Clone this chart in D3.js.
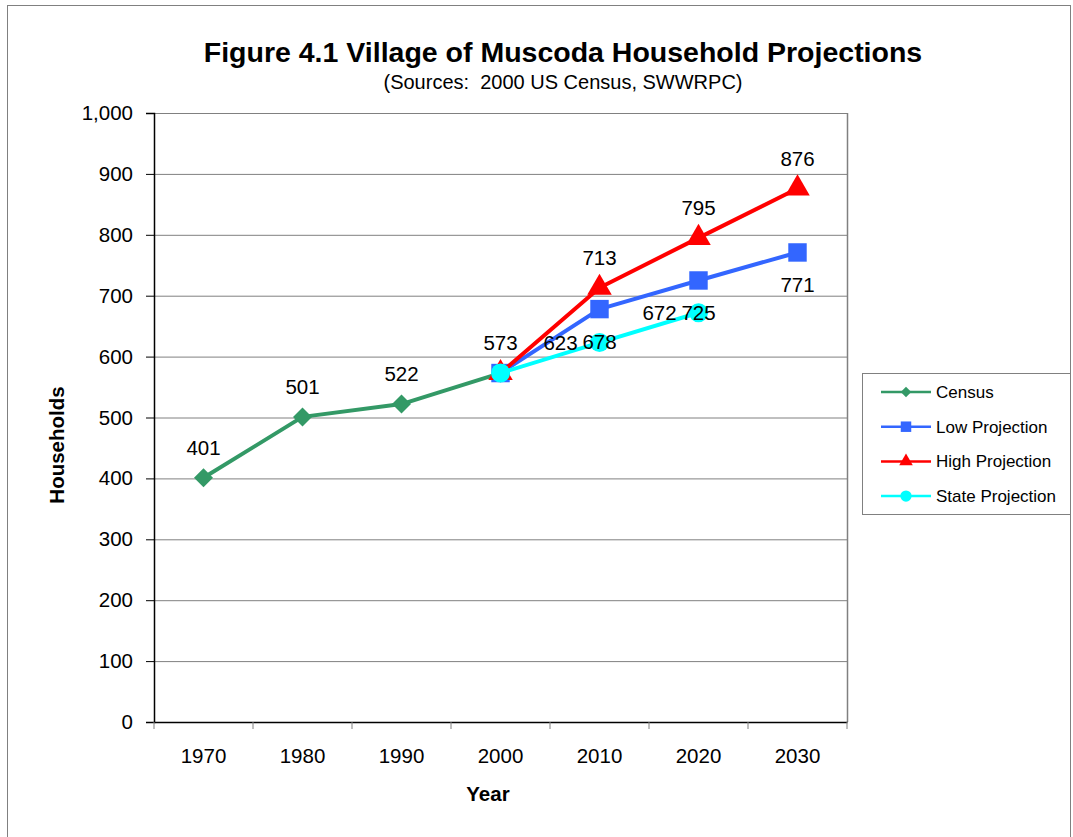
<!DOCTYPE html>
<html><head><meta charset="utf-8">
<script src="https://cdn.jsdelivr.net/npm/d3@7"></script>
<style>body{margin:0;background:#fff;}svg{display:block;font-family:Arial,"Liberation Sans",sans-serif;}</style>
</head><body>
<svg id="c" width="1073" height="837"></svg>
<script>
const years = ["1970","1980","1990","2000","2010","2020","2030"];
const census = [["1970",401],["1980",501],["1990",522],["2000",573]];
const lowProj = [["2000",573],["2010",678],["2020",725],["2030",771]];
const highProj = [["2000",573],["2010",713],["2020",795],["2030",876]];
const stateProj = [["2000",573],["2010",623],["2020",672]];
const yTicks = [0,100,200,300,400,500,600,700,800,900,1000];

const svg = d3.select("#c");
const L=154, R=847, T=113, B=722;
const FS = 20.5;
const x = d3.scaleBand().domain(years).range([L,R]);
const y = d3.scaleLinear().domain([0,1000]).range([B,T]);

svg.append("rect").attr("x",7.5).attr("y",5.5).attr("width",1063).attr("height",840)
  .attr("fill","none").attr("stroke","#808080").attr("stroke-width",1);

svg.append("text").attr("x",563).attr("y",62).attr("text-anchor","middle")
  .attr("font-size",28.5).attr("font-weight","bold").text("Figure 4.1 Village of Muscoda Household Projections");
svg.append("text").attr("x",563).attr("y",89).attr("text-anchor","middle")
  .attr("font-size",20).style("white-space","pre").text("(Sources:  2000 US Census, SWWRPC)");

// gridlines
svg.append("g").selectAll("line").data(yTicks.filter(d=>d>0)).join("line")
  .attr("x1",L).attr("x2",R).attr("y1",d=>y(d)+0.5).attr("y2",d=>y(d)+0.5)
  .attr("stroke","#808080").attr("stroke-width",1);
svg.append("line").attr("x1",R+0.5).attr("x2",R+0.5).attr("y1",T).attr("y2",B)
  .attr("stroke","#808080").attr("stroke-width",1.5);

// y axis
const ya = svg.append("g").attr("transform",`translate(${L},0)`)
  .call(d3.axisLeft(y).tickValues(yTicks).tickSize(8).tickPadding(13).tickFormat(d3.format(",")));
ya.select(".domain").attr("stroke","#000").attr("stroke-width",1.5);
ya.selectAll(".tick line").attr("stroke","#000");
ya.selectAll("text").attr("font-size",FS).attr("font-family","Arial,'Liberation Sans',sans-serif").attr("fill","#000");

// x axis
const xa = svg.append("g").attr("transform",`translate(0,${B})`)
  .call(d3.axisBottom(x).tickSize(0).tickPadding(26));
xa.select(".domain").attr("stroke","#000").attr("stroke-width",1.5);
xa.selectAll("text").attr("font-size",FS).attr("font-family","Arial,'Liberation Sans',sans-serif").attr("fill","#000");
const edges = years.map(d=>x(d)).concat([R]);
svg.append("g").selectAll("line").data(edges).join("line")
  .attr("x1",d=>d).attr("x2",d=>d).attr("y1",B).attr("y2",B+7).attr("stroke","#808080").attr("stroke-width",1);

svg.append("text").attr("x",488).attr("y",801).attr("text-anchor","middle")
  .attr("font-size",FS).attr("font-weight","bold").text("Year");
svg.append("text").attr("transform","translate(64,445) rotate(-90)").attr("text-anchor","middle")
  .attr("font-size",FS).attr("font-weight","bold").text("Households");

const cx = d => x(d[0]) + x.bandwidth()/2;
const line = d3.line().x(cx).y(d=>y(d[1]));

const series = [
  {name:"Census", data:census, color:"#339966", sym:d3.symbolSquare, rot:45, size:180, legSize:55, lab:"above"},
  {name:"Low Projection", data:lowProj, color:"#3366FF", sym:d3.symbolSquare, rot:0, size:340, legSize:110, lab:"below"},
  {name:"High Projection", data:highProj, color:"#FF0000", sym:d3.symbolTriangle, rot:0, size:260, legSize:80, lab:"above"},
  {name:"State Projection", data:stateProj, color:"#00FFFF", sym:d3.symbolCircle, rot:0, size:285, legSize:100, lab:"left"}
];

series.forEach(s=>{
  svg.append("path").datum(s.data).attr("d",line).attr("fill","none")
    .attr("stroke",s.color).attr("stroke-width",4).attr("stroke-linejoin","round");
  svg.append("g").selectAll("path").data(s.data).join("path")
    .attr("transform",d=>`translate(${cx(d)},${y(d[1])}) rotate(${s.rot})`)
    .attr("d",d3.symbol().type(s.sym).size(s.size)).attr("fill",s.color);
});

series.forEach(s=>{
  const labs = s.data.filter(d=>!(s.name!=="Census" && d[0]==="2000"));
  svg.append("g").selectAll("text").data(labs).join("text")
    .attr("x",d=> s.lab==="left" ? cx(d)-39 : cx(d))
    .attr("y",d=> s.lab==="above" ? y(d[1])-23 : (s.lab==="below" ? y(d[1])+40 : y(d[1])+7))
    .attr("text-anchor","middle").attr("font-size",FS).attr("fill","#000").text(d=>d[1]);
});

// legend
const lg = svg.append("g");
lg.append("rect").attr("x",862.5).attr("y",373.5).attr("width",208).attr("height",141)
  .attr("fill","#fff").attr("stroke","#808080").attr("stroke-width",1);
series.forEach((s,i)=>{
  const yy = 392 + i*34.7;
  lg.append("line").attr("x1",881).attr("x2",931).attr("y1",yy).attr("y2",yy)
    .attr("stroke",s.color).attr("stroke-width",2.5);
  lg.append("path").attr("transform",`translate(906,${yy}) rotate(${s.rot})`)
    .attr("d",d3.symbol().type(s.sym).size(s.legSize)).attr("fill",s.color);
  lg.append("text").attr("x",936).attr("y",yy+6).attr("font-size",17).attr("fill","#000").text(s.name);
});
</script>
</body></html>
